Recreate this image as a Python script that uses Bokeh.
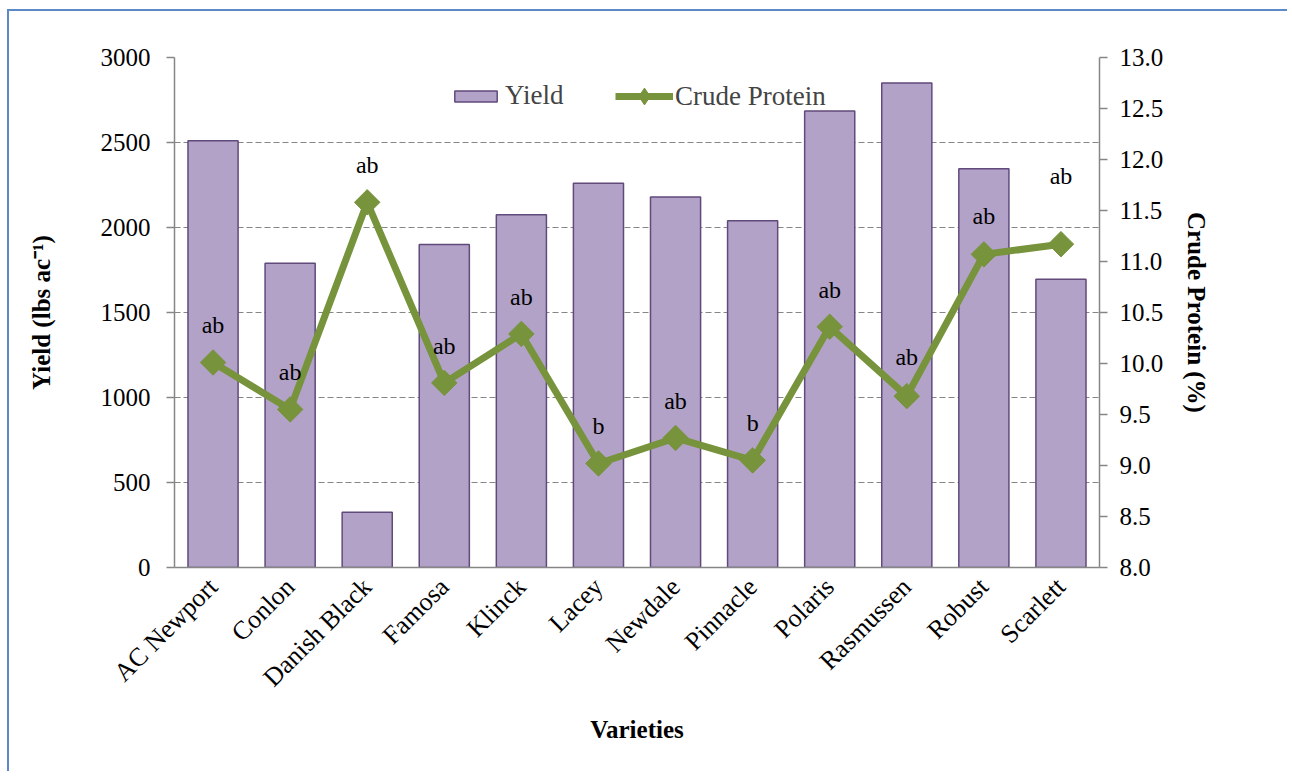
import math
from bokeh.plotting import figure
from bokeh.models import Range1d, LinearAxis, FactorRange, Legend, LegendItem, ColumnDataSource, FixedTicker
from bokeh.core.properties import value
from bokeh.embed import file_html
from bokeh.resources import INLINE

varieties = ["AC Newport", "Conlon", "Danish Black", "Famosa", "Klinck", "Lacey",
             "Newdale", "Pinnacle", "Polaris", "Rasmussen", "Robust", "Scarlett"]
yield_lbs = [2510, 1790, 325, 1900, 2075, 2260, 2180, 2040, 2685, 2850, 2345, 1695]
crude_protein = [10.01, 9.55, 11.58, 9.81, 10.29, 9.02, 9.27, 9.05, 10.36, 9.68, 11.07, 11.17]
sig_letters = ["ab", "ab", "ab", "ab", "ab", "b", "ab", "b", "ab", "ab", "ab", "ab"]
label_lift = [37, 37, 37, 37, 37, 37, 37, 37, 37, 39, 38, 68]

FONT = "Liberation Serif"
GREY = "#868686"
GREEN = "#77933c"
W, H = 1280, 762
MBL, MBT, MBR, MBB = 165, 46, 190, 206

p = figure(x_range=FactorRange(factors=varieties, range_padding=0),
           y_range=Range1d(0, 3000), width=W, height=H,
           output_backend="svg", toolbar_location=None,
           min_border_left=MBL, min_border_right=MBR,
           min_border_top=MBT, min_border_bottom=MBB)
p.styles = {"border-top": "2px solid #5b8ac6", "border-left": "2px solid #5b8ac6",
            "margin-left": "7px", "margin-top": "9px"}
p.outline_line_color = None
p.background_fill_color = "white"
p.border_fill_color = "white"
p.extra_y_ranges = {"protein": Range1d(8, 13)}

# grid
p.xgrid.grid_line_color = None
p.ygrid.grid_line_color = GREY
p.ygrid.grid_line_dash = "6 3"
p.ygrid.grid_line_width = 1
p.ygrid.ticker = FixedTicker(ticks=[500, 1000, 1500, 2000, 2500, 3000])

src = ColumnDataSource(dict(v=varieties, y=yield_lbs, cp=crude_protein,
                            lab=sig_letters,
                            off=[-o for o in label_lift]))

bars = p.vbar(x="v", top="y", width=0.65, source=src,
              fill_color="#b3a2c7", line_color="#604a7b", line_width=1.5)
ln = p.line(x="v", y="cp", source=src, y_range_name="protein",
            line_color=GREEN, line_width=7)
mk = p.scatter(x="v", y="cp", source=src, y_range_name="protein",
               marker="square", angle=math.pi / 4, size=18,
               fill_color=GREEN, line_color=GREEN)
# off-range renderer used only for the legend's diamond glyph
legend_diamond = p.scatter(x=[varieties[0]], y=[0], y_range_name="protein",
                           marker="diamond", size=1,
                           fill_color=GREEN, line_color=GREEN)
p.text(x="v", y="cp", text="lab", source=src, y_range_name="protein",
       y_offset="off", text_align="center", text_baseline="middle",
       text_font=value(FONT), text_font_size="24px", text_color="black")

# axes
def style_axis(ax):
    ax.axis_line_color = GREY
    ax.axis_line_width = 1.5
    ax.major_tick_line_color = GREY
    ax.major_tick_line_width = 1.5
    ax.minor_tick_line_color = None
    ax.major_label_text_font = FONT
    ax.major_label_text_font_size = "25px"
    ax.major_label_text_color = "black"
    ax.axis_label_text_font = FONT
    ax.axis_label_text_font_size = "25px"
    ax.axis_label_text_font_style = "bold"
    ax.axis_label_text_color = "black"

yl = p.yaxis[0]
style_axis(yl)
yl.ticker = FixedTicker(ticks=[0, 500, 1000, 1500, 2000, 2500, 3000])
yl.major_tick_in = 0
yl.major_tick_out = 8
yl.major_label_standoff = 16
yl.axis_label = "Yield (lbs ac\u207b\u00b9)"
yl.axis_label_standoff = 43

yr = LinearAxis(y_range_name="protein", axis_label="Crude Protein (%)")
style_axis(yr)
yr.ticker = FixedTicker(ticks=[8 + 0.5 * i for i in range(11)])
yr.major_label_overrides = {8 + 0.5 * i: f"{8 + 0.5 * i:.1f}" for i in range(11)}
yr.major_tick_in = 0
yr.major_tick_out = 8
yr.major_label_standoff = 12
yr.axis_label_standoff = 17
p.add_layout(yr, "right")

xa = p.xaxis[0]
style_axis(xa)
xa.major_label_text_font_size = "26px"
xa.major_tick_line_color = None
xa.major_tick_out = 0
xa.major_tick_in = 0
xa.major_label_orientation = math.pi / 4
xa.major_label_standoff = 15
xa.axis_label = "Varieties"
xa.axis_label_standoff = 10

leg_yield = Legend(items=[LegendItem(label="Yield", renderers=[bars])],
                   orientation="horizontal", location=(275, 456),
                   border_line_color=None, background_fill_alpha=0,
                   label_text_font=FONT, label_text_font_size="27px",
                   label_height=30, glyph_width=53, glyph_height=14,
                   label_standoff=3, padding=0, margin=0)
leg_cp = Legend(items=[LegendItem(label="Crude Protein", renderers=[ln, legend_diamond])],
                orientation="horizontal", location=(441, 450),
                border_line_color=None, background_fill_alpha=0,
                label_text_font=FONT, label_text_font_size="27px",
                label_height=42, glyph_width=58, glyph_height=42,
                label_standoff=2, padding=0, margin=0)
p.add_layout(leg_yield, "center")
p.add_layout(leg_cp, "center")

open("out.html", "w").write(file_html(p, INLINE))
